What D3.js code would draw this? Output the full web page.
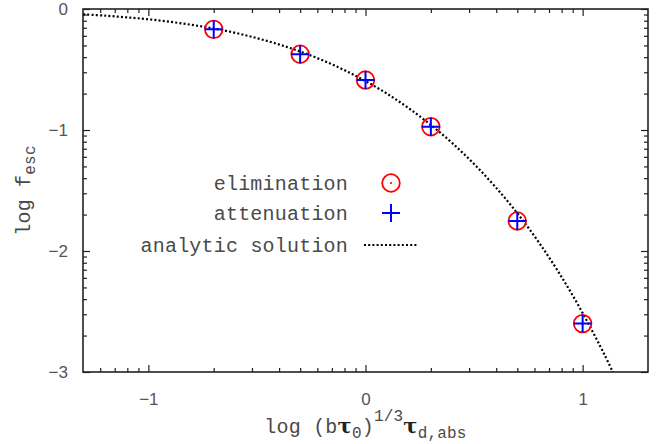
<!DOCTYPE html>
<html>
<head>
<meta charset="utf-8">
<script src="https://cdn.jsdelivr.net/npm/d3@7.9.0/dist/d3.min.js"></script>
<style>
  body { margin: 0; background: #fff; }
  svg { display: block; }
  .tick text { font-family: "Liberation Sans", Arial, sans-serif; font-size: 17px; fill: #555; }
  .lab { font-family: "Liberation Mono", "Courier New", monospace; font-size: 20px; fill: #4a4a4a; letter-spacing: 0.2px; }
  .tau { font-family: "DejaVu Serif", "Liberation Serif", serif; font-weight: bold; font-size: 21px; fill: #222; }
</style>
</head>
<body>
<svg id="chart" width="667" height="444"></svg>
<script>
// simulated points, log10 of (b tau0)^(1/3) tau_d,abs vs log10 f_esc
const simX = [-0.699, -0.301, 0, 0.301, 0.699, 1];
const elimY = [-0.168, -0.374, -0.587, -0.973, -1.752, -2.60];
const attenY = [-0.168, -0.374, -0.587, -0.973, -1.752, -2.60];

// analytic solution
const curveX = [-1.3, -1.2, -1.1, -1.0, -0.9, -0.8, -0.7, -0.6, -0.5, -0.4, -0.3, -0.2, -0.1,
  0, 0.1, 0.2, 0.3, 0.4, 0.5, 0.6, 0.7, 0.8, 0.9, 1.0, 1.1, 1.14];
const curveY = [-0.044, -0.055, -0.069, -0.085, -0.106, -0.131, -0.161, -0.197, -0.241, -0.292, -0.352, -0.422, -0.503,
  -0.596, -0.701, -0.821, -0.957, -1.109, -1.281, -1.474, -1.690, -1.933, -2.206, -2.512, -2.855, -3.004];

const xTicks = [-1, 0, 1];
const yTicks = [-3, -2, -1, 0];
const legendLabels = ["elimination", "attenuation", "analytic solution"];

const svg = d3.select("#chart");
const pLeft = 83, pRight = 648, pTop = 9, pBottom = 372;

const x = d3.scaleLinear().domain([Math.log10(0.05), Math.log10(20)]).range([pLeft, pRight]);
const y = d3.scaleLinear().domain([-3, 0]).range([pBottom, pTop]);

// log-style minor ticks between the decades
function minorTicks(domain) {
  let out = [];
  for (let n = Math.floor(domain[0]) - 1; n <= Math.ceil(domain[1]); n++) {
    for (let k = 2; k <= 9; k++) {
      let v = n + Math.log10(k);
      if (v > domain[0] + 1e-6 && v < domain[1] - 1e-6) out.push(v);
    }
  }
  return out;
}
const xMinor = minorTicks(x.domain());
const yMinor = minorTicks(y.domain());

function drawAxis(axis, transform) {
  let g = svg.append("g").attr("transform", transform).call(axis);
  g.select(".domain").remove();
  g.selectAll(".tick line").attr("stroke", "#222").attr("stroke-width", 1.2);
  return g;
}

const fmt = d3.format("d");
drawAxis(d3.axisBottom(x).tickValues(xTicks).tickSize(-7).tickPadding(21).tickFormat(fmt), `translate(0,${pBottom})`);
drawAxis(d3.axisBottom(x).tickValues(xMinor).tickSize(-4).tickFormat(""), `translate(0,${pBottom})`);
drawAxis(d3.axisTop(x).tickValues(xTicks).tickSize(-7).tickFormat(""), `translate(0,${pTop})`);
drawAxis(d3.axisTop(x).tickValues(xMinor).tickSize(-4).tickFormat(""), `translate(0,${pTop})`);
drawAxis(d3.axisLeft(y).tickValues(yTicks).tickSize(-7).tickPadding(15).tickFormat(fmt), `translate(${pLeft},0)`);
drawAxis(d3.axisLeft(y).tickValues(yMinor).tickSize(-4).tickFormat(""), `translate(${pLeft},0)`);
drawAxis(d3.axisRight(y).tickValues(yTicks).tickSize(-7).tickFormat(""), `translate(${pRight},0)`);
drawAxis(d3.axisRight(y).tickValues(yMinor).tickSize(-4).tickFormat(""), `translate(${pRight},0)`);

svg.append("rect")
  .attr("x", pLeft).attr("y", pTop)
  .attr("width", pRight - pLeft).attr("height", pBottom - pTop)
  .attr("fill", "none").attr("stroke", "#222").attr("stroke-width", 1.6);

svg.append("clipPath").attr("id", "plotclip")
  .append("rect").attr("x", pLeft).attr("y", pTop)
  .attr("width", pRight - pLeft).attr("height", pBottom - pTop);

const plot = svg.append("g").attr("clip-path", "url(#plotclip)");

const line = d3.line().x((d) => x(d[0])).y((d) => y(d[1])).curve(d3.curveCatmullRom);
plot.append("path")
  .attr("d", line(curveX.map((v, i) => [v, curveY[i]])))
  .attr("fill", "none").attr("stroke", "#000")
  .attr("stroke-width", 2.2).attr("stroke-dasharray", "2 2.2");

function circleMark(g, cx, cy, dot) {
  g.append("circle").attr("cx", cx).attr("cy", cy).attr("r", 8.8)
    .attr("fill", "none").attr("stroke", "#ff0000").attr("stroke-width", 1.8);
  if (dot) g.append("circle").attr("cx", cx).attr("cy", cy).attr("r", 1.1).attr("fill", "#ff0000");
}
function plusMark(g, cx, cy) {
  g.append("path")
    .attr("d", `M${cx - 9},${cy}H${cx + 9}M${cx},${cy - 9}V${cy + 9}`)
    .attr("stroke", "#0000ff").attr("stroke-width", 2).attr("fill", "none");
}

simX.forEach((v, i) => circleMark(plot, x(v), y(elimY[i]), true));
simX.forEach((v, i) => plusMark(plot, x(v), y(attenY[i])));

// legend
const legX = 348, sampleX = 391, rowY = [183, 213, 245];
legendLabels.forEach((t, i) => {
  svg.append("text").attr("class", "lab")
    .attr("x", legX).attr("y", rowY[i] + 7)
    .attr("text-anchor", "end").text(t);
});
circleMark(svg, sampleX, rowY[0], true);
plusMark(svg, sampleX, rowY[1]);
svg.append("line")
  .attr("x1", 364).attr("x2", 417).attr("y1", rowY[2]).attr("y2", rowY[2])
  .attr("stroke", "#000").attr("stroke-width", 2.2).attr("stroke-dasharray", "2 2.2");

// axis titles
const xt = svg.append("text").attr("class", "lab")
  .attr("x", (pLeft + pRight) / 2).attr("y", 433).attr("text-anchor", "middle");
xt.append("tspan").text("log (b");
xt.append("tspan").attr("class", "tau").text("τ");
xt.append("tspan").attr("dy", 5).attr("font-size", 16).text("0");
xt.append("tspan").attr("dy", -5).text(")");
xt.append("tspan").attr("dy", -12).attr("font-size", 16).text("1/3");
xt.append("tspan").attr("dy", 12).attr("class", "tau").text("τ");
xt.append("tspan").attr("dy", 5).attr("font-size", 16).text("d,abs");

const yt = svg.append("text").attr("class", "lab")
  .attr("transform", `translate(30,${(pTop + pBottom) / 2}) rotate(-90)`)
  .attr("text-anchor", "middle");
yt.append("tspan").text("log f");
yt.append("tspan").attr("dy", 5).attr("font-size", 16).text("esc");
</script>
</body>
</html>
